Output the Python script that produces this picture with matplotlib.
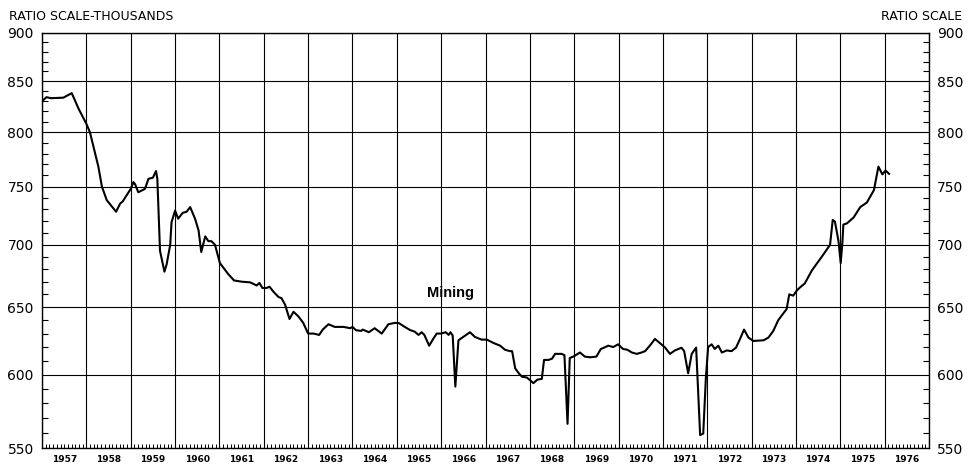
import numpy as np
import matplotlib
matplotlib.use("Agg")
import matplotlib.pyplot as plt
from matplotlib.ticker import FixedLocator, NullFormatter

# Mining employment, thousands (ratio scale)
dates = [
    1957.00, 1957.10, 1957.20, 1957.48, 1957.67, 1957.82, 1958.00, 1958.08,
    1958.27, 1958.35, 1958.46, 1958.67, 1958.76, 1958.82, 1959.00, 1959.06,
    1959.10, 1959.17, 1959.32, 1959.40, 1959.50, 1959.57, 1959.60, 1959.66,
    1959.76, 1959.81, 1959.89, 1959.92, 1960.00, 1960.07, 1960.17, 1960.26,
    1960.34, 1960.45, 1960.53, 1960.59, 1960.68, 1960.75, 1960.82, 1960.90,
    1961.01, 1961.20, 1961.33, 1961.50, 1961.69, 1961.84, 1961.90, 1961.97,
    1962.06, 1962.13, 1962.22, 1962.33, 1962.40, 1962.48, 1962.58, 1962.67,
    1962.78, 1962.89, 1963.00, 1963.12, 1963.25, 1963.33, 1963.46, 1963.60,
    1963.80, 1963.95, 1964.00, 1964.08, 1964.20, 1964.23, 1964.37, 1964.50,
    1964.66, 1964.81, 1964.95, 1965.04, 1965.18, 1965.30, 1965.40, 1965.49,
    1965.56, 1965.62, 1965.73, 1965.82, 1965.90, 1966.00, 1966.10, 1966.17,
    1966.21, 1966.26, 1966.32, 1966.39, 1966.50, 1966.65, 1966.76, 1966.91,
    1967.03, 1967.18, 1967.33, 1967.44, 1967.55, 1967.60, 1967.67, 1967.75,
    1967.82, 1967.93, 1967.99, 1968.08, 1968.17, 1968.27, 1968.32, 1968.42,
    1968.50, 1968.57, 1968.72, 1968.78, 1968.85, 1968.90, 1968.98, 1969.13,
    1969.24, 1969.36, 1969.50, 1969.60, 1969.77, 1969.88, 1969.99, 1970.10,
    1970.20, 1970.30, 1970.41, 1970.52, 1970.60, 1970.73, 1970.82, 1970.93,
    1971.05, 1971.16, 1971.27, 1971.42, 1971.48, 1971.57, 1971.65, 1971.75,
    1971.84, 1971.91, 1971.97, 1972.02, 1972.10, 1972.17, 1972.25, 1972.33,
    1972.44, 1972.55, 1972.65, 1972.74, 1972.83, 1972.93, 1973.04, 1973.27,
    1973.38, 1973.49, 1973.60, 1973.71, 1973.79, 1973.85, 1973.94, 1974.02,
    1974.09, 1974.20, 1974.36, 1974.50, 1974.62, 1974.77, 1974.83, 1974.88,
    1974.96, 1975.01, 1975.05, 1975.07, 1975.15, 1975.30, 1975.45, 1975.60,
    1975.76, 1975.86, 1975.95, 1976.02, 1976.10,
]
mining = [
    830, 834, 833, 833.5, 838, 823, 808, 800,
    768, 750, 738, 728, 735, 737, 748, 754,
    752, 745, 748, 757, 758, 764, 757, 695,
    678, 684, 700, 719, 729, 722, 727, 728,
    732, 722, 712, 694, 707, 703, 703, 700,
    685, 676, 671, 670, 669.5, 667, 669, 665,
    665, 666, 662, 658, 657, 652, 641, 646.5,
    643, 638, 630, 630, 629, 633, 637, 635,
    635, 634, 635, 632.5, 632, 633, 631, 634,
    630, 637, 638, 638, 635, 632.6, 631.5, 629,
    631, 629, 621, 626, 630, 630, 631, 629,
    631, 628.6, 591.6, 625, 627.5, 631, 627.5, 625.5,
    625.5, 623, 621, 618, 617, 617, 604.5, 601,
    598.6, 598, 596.5, 594, 596.5, 597, 610.6, 610.6,
    611.5, 615, 615, 614, 566, 612, 613, 616,
    613, 612.5, 613, 618.5, 621, 620, 622, 618.6,
    618, 616, 615, 616, 617, 622, 626, 623,
    619.6, 615, 617.5, 619.5, 617, 601, 615, 619.6,
    558.5, 559.5, 598, 620, 622, 618.6, 621, 616,
    617.5, 617, 619.6, 626, 633, 627, 624.5, 625,
    627, 632, 640, 645, 648.5, 660, 659, 663,
    665.4, 668.6, 679, 686, 692, 700, 721, 719.5,
    703, 685, 703, 717, 718, 723, 732, 736,
    747, 768, 761, 764.5, 761.5,
]

years = list(range(1957, 1977))
y_ticks = [550, 600, 650, 700, 750, 800, 850, 900]
y_minor = [v for v in range(560, 900, 10) if v % 50 != 0]

fig = plt.figure(figsize=(9.71, 4.70), dpi=100)
ax = fig.add_axes([0.0433, 0.0468, 0.9134, 0.883])

ax.plot(dates, mining, color="black", lw=1.5, solid_joinstyle="round")

ax.set_yscale("log")
ax.set_ylim(550, 900)
ax.set_xlim(1957, 1977)

ax.yaxis.set_major_locator(FixedLocator(y_ticks))
ax.yaxis.set_minor_locator(FixedLocator(y_minor))
ax.yaxis.set_minor_formatter(NullFormatter())
ax.set_yticklabels([str(v) for v in y_ticks])

ax.xaxis.set_major_locator(FixedLocator(years + [1977]))
ax.xaxis.set_major_formatter(NullFormatter())
months = [y + m / 12 for y in years for m in range(1, 12)]
ax.xaxis.set_minor_locator(FixedLocator(months))

ax.grid(True, which="major", color="black", lw=0.8)
ax.tick_params(axis="y", which="major", length=0, labelsize=10, pad=6,
               left=True, right=True, labelleft=True, labelright=True)
ax.tick_params(axis="y", which="minor", length=4, width=0.8, direction="in",
               left=True, right=True)
ax.tick_params(axis="x", which="major", length=0)
ax.tick_params(axis="x", which="minor", length=3, width=0.7, direction="in",
               top=False, bottom=True)

for s in ax.spines.values():
    s.set_linewidth(1.0)

# year labels centred in each year
for y in years:
    ax.text(y + 0.5, -0.018, str(y), transform=ax.get_xaxis_transform(),
            ha="center", va="top", fontsize=6.5, fontweight="bold")

ax.text(1966.2, 661, "Mining", ha="center", va="center", fontsize=10.5,
        fontweight="bold", family="Liberation Sans")

fig.text(9 / 971, 1 - 16 / 470, "RATIO SCALE-THOUSANDS", ha="left",
         va="center", fontsize=9)
fig.text(962 / 971, 1 - 16 / 470, "RATIO SCALE", ha="right",
         va="center", fontsize=9)

fig.savefig("out.png", dpi=100)
